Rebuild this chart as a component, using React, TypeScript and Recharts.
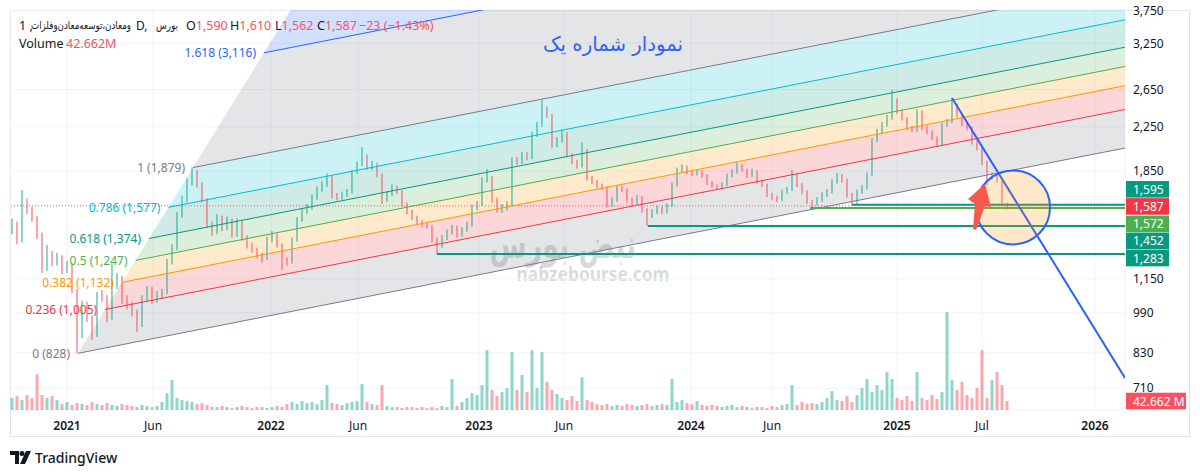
import React from "react"
import {
  ComposedChart,
  Bar,
  Area,
  XAxis,
  YAxis,
  CartesianGrid,
  ReferenceLine,
  ReferenceDot,
  Cell,
} from "recharts"

// TradingView-ish palette
const UP = "#22ab94"
const DOWN = "#f7525f"
const TEXT = "#131722"
const GRID = "#f0f3fa"
const FONT = '"Noto Sans", "DejaVu Sans", sans-serif'
const AR_FONT = '"DejaVu Sans", sans-serif'

// x = bar index (one candle every 5px)
const X_DOMAIN = [-0.4, 222.6]
const X_TICKS = [11, 28.2, 51.8, 69.2, 93.4, 110.4, 135.8, 152, 177, 194, 216.6]
const X_LABELS = ["2021", "Jun", "2022", "Jun", "2023", "Jun", "2024", "Jun", "2025", "Jul", "2026"]

const Y_DOMAIN = [645, 3764]
const Y_TICKS = [710, 830, 990, 1150, 1850, 2250, 2650, 3250, 3750]
const VOL_DOMAIN = [0, 1900]

const OPEN = [
  1420, 1459, 1365, 1594, 1558, 1504, 1396, 1207, 1278, 1239,
  1261, 1196, 1223, 1095, 898, 1025, 968, 898, 1071, 1057,
  968, 1120, 1155, 1048, 1025, 994, 938, 1057, 1095, 1048,
  1071, 1085, 1239, 1318, 1524, 1629, 1756, 1842, 1741, 1629,
  1459, 1414, 1504, 1440, 1491, 1396, 1478, 1377, 1336, 1306,
  1278, 1261, 1365, 1396, 1336, 1250, 1239, 1365, 1491, 1545,
  1572, 1643, 1702, 1741, 1795, 1658, 1643, 1665, 1687, 1842,
  1901, 1968, 1876, 1901, 1819, 1629, 1665, 1718, 1687, 1594,
  1545, 1504, 1478, 1459, 1452, 1365, 1336, 1377, 1414, 1440,
  1396, 1427, 1459, 1572, 1594, 1779, 1795, 1629, 1558, 1572,
  1594, 1943, 1926, 1986, 1960, 2169, 2267, 2422, 2369, 2075,
  2122, 2188, 1986, 1926, 1893, 2030, 1795, 1764, 1733, 1718,
  1594, 1629, 1718, 1702, 1629, 1608, 1643, 1558, 1524, 1545,
  1572, 1545, 1587, 1741, 1859, 1876, 1842, 1827, 1842, 1811,
  1756, 1733, 1718, 1741, 1811, 1842, 1893, 1859, 1811, 1842,
  1764, 1741, 1665, 1643, 1629, 1687, 1702, 1819, 1741, 1687,
  1615, 1601, 1629, 1665, 1687, 1764, 1811, 1779, 1665, 1608,
  1687, 1718, 1819, 2122, 2198, 2267, 2338, 2531, 2401, 2338,
  2237, 2217, 2401, 2237, 2198, 2141, 2075, 2267, 2297, 2476,
  2369, 2277, 2237, 2103, 2048, 1926, 1795, 1819, 1779, 1590,
]
const HIGH = [
  1500, 1480, 1702, 1640, 1580, 1520, 1410, 1336, 1300, 1290,
  1275, 1245, 1235, 1100, 1045, 1040, 980, 1085, 1095, 1070,
  1230, 1180, 1165, 1070, 1040, 1005, 1070, 1115, 1110, 1090,
  1100, 1255, 1340, 1545, 1660, 1790, 1879, 1860, 1760, 1640,
  1480, 1530, 1520, 1515, 1500, 1500, 1490, 1395, 1350, 1320,
  1290, 1385, 1420, 1405, 1345, 1265, 1380, 1510, 1570, 1600,
  1670, 1730, 1770, 1830, 1810, 1680, 1690, 1710, 1860, 1930,
  2055, 1990, 1935, 1920, 1830, 1690, 1745, 1735, 1700, 1610,
  1560, 1520, 1490, 1475, 1460, 1380, 1395, 1430, 1460, 1455,
  1445, 1480, 1595, 1620, 1800, 1865, 1810, 1645, 1600, 1620,
  1965, 1970, 2015, 2010, 2200, 2300, 2531, 2460, 2380, 2150,
  2220, 2200, 2000, 1945, 2098, 2040, 1810, 1780, 1750, 1730,
  1650, 1740, 1735, 1715, 1645, 1665, 1655, 1570, 1565, 1590,
  1585, 1605, 1760, 1880, 1905, 1895, 1860, 1860, 1855, 1825,
  1770, 1745, 1760, 1830, 1865, 1920, 1910, 1870, 1870, 1855,
  1780, 1750, 1680, 1660, 1705, 1725, 1859, 1830, 1755, 1700,
  1630, 1650, 1685, 1710, 1785, 1835, 1825, 1790, 1680, 1705,
  1740, 1840, 2140, 2230, 2300, 2370, 2645, 2550, 2420, 2350,
  2260, 2430, 2415, 2255, 2215, 2155, 2290, 2330, 2554, 2490,
  2385, 2295, 2250, 2120, 2060, 1935, 1840, 1830, 1790, 1610,
]
const LOW = [
  1400, 1340, 1350, 1530, 1480, 1370, 1180, 1190, 1215, 1220,
  1175, 1180, 1080, 828, 885, 950, 879, 890, 1040, 950,
  960, 1100, 1030, 1005, 975, 910, 930, 1040, 1030, 1035,
  1055, 1075, 1225, 1305, 1505, 1610, 1735, 1720, 1610, 1440,
  1390, 1400, 1420, 1425, 1380, 1385, 1360, 1315, 1290, 1260,
  1236, 1250, 1350, 1320, 1196, 1220, 1230, 1355, 1480, 1530,
  1560, 1630, 1690, 1725, 1640, 1625, 1630, 1650, 1675, 1830,
  1890, 1860, 1860, 1800, 1600, 1615, 1655, 1670, 1580, 1530,
  1490, 1460, 1445, 1435, 1350, 1283, 1320, 1365, 1400, 1380,
  1385, 1415, 1450, 1555, 1585, 1760, 1610, 1540, 1540, 1555,
  1585, 1900, 1910, 1940, 1950, 2150, 2250, 2340, 2050, 2055,
  2100, 1965, 1905, 1870, 1880, 1775, 1745, 1715, 1700, 1575,
  1580, 1615, 1685, 1610, 1590, 1595, 1540, 1452, 1505, 1530,
  1530, 1535, 1580, 1730, 1840, 1825, 1810, 1815, 1795, 1740,
  1720, 1705, 1705, 1730, 1800, 1830, 1845, 1795, 1800, 1750,
  1725, 1650, 1630, 1612, 1620, 1675, 1695, 1725, 1670, 1600,
  1572, 1590, 1615, 1650, 1675, 1750, 1760, 1645, 1595, 1600,
  1675, 1705, 1810, 2100, 2180, 2250, 2320, 2380, 2310, 2215,
  2195, 2200, 2215, 2175, 2120, 2055, 2065, 2250, 2285, 2345,
  2255, 2215, 2080, 2025, 1900, 1741, 1780, 1760, 1590, 1562,
]
const CLOSE = [
  1459, 1365, 1594, 1558, 1504, 1396, 1207, 1278, 1239, 1261,
  1196, 1223, 1095, 898, 1025, 968, 898, 1071, 1057, 968,
  1120, 1155, 1048, 1025, 994, 938, 1057, 1095, 1048, 1071,
  1085, 1239, 1318, 1524, 1629, 1756, 1842, 1741, 1629, 1459,
  1414, 1504, 1440, 1491, 1396, 1478, 1377, 1336, 1306, 1278,
  1261, 1365, 1396, 1336, 1250, 1239, 1365, 1491, 1545, 1572,
  1643, 1702, 1741, 1795, 1658, 1643, 1665, 1687, 1842, 1901,
  1968, 1876, 1901, 1819, 1629, 1665, 1718, 1687, 1594, 1545,
  1504, 1478, 1459, 1452, 1365, 1336, 1377, 1414, 1440, 1396,
  1427, 1459, 1572, 1594, 1779, 1795, 1629, 1558, 1572, 1594,
  1943, 1926, 1986, 1960, 2169, 2267, 2422, 2369, 2075, 2122,
  2188, 1986, 1926, 1893, 2030, 1795, 1764, 1733, 1718, 1594,
  1629, 1718, 1702, 1629, 1608, 1643, 1558, 1524, 1545, 1572,
  1545, 1587, 1741, 1859, 1876, 1842, 1827, 1842, 1811, 1756,
  1733, 1718, 1741, 1811, 1842, 1893, 1859, 1811, 1842, 1764,
  1741, 1665, 1643, 1629, 1687, 1702, 1819, 1741, 1687, 1615,
  1601, 1629, 1665, 1687, 1764, 1811, 1779, 1665, 1608, 1687,
  1718, 1819, 2122, 2198, 2267, 2338, 2531, 2401, 2338, 2237,
  2217, 2401, 2237, 2198, 2141, 2075, 2267, 2297, 2476, 2369,
  2277, 2237, 2103, 2048, 1926, 1795, 1819, 1779, 1610, 1587,
]
// volume, millions
const VOLUME = [
  57, 66, 47, 71, 57, 170, 71, 57, 66, 47,
  28, 38, 24, 33, 28, 24, 38, 28, 24, 33,
  24, 19, 28, 24, 19, 14, 24, 19, 14, 19,
  38, 80, 142, 57, 47, 43, 38, 28, 33, 24,
  14, 14, 19, 14, 9, 14, 19, 14, 9, 14,
  14, 9, 14, 19, 14, 28, 38, 28, 43, 33,
  38, 28, 47, 118, 33, 28, 24, 33, 38, 43,
  123, 38, 28, 24, 118, 19, 14, 14, 9, 14,
  14, 9, 14, 9, 14, 9, 19, 14, 147, 19,
  38, 57, 80, 71, 118, 284, 95, 66, 85, 104,
  275, 95, 166, 85, 284, 104, 275, 133, 95, 76,
  57, 47, 66, 43, 156, 47, 38, 28, 24, 28,
  19, 24, 19, 28, 24, 19, 24, 28, 19, 24,
  28, 24, 147, 38, 47, 33, 28, 43, 24, 19,
  24, 19, 14, 19, 24, 14, 19, 14, 9, 14,
  14, 9, 19, 14, 24, 28, 118, 24, 38, 28,
  33, 28, 38, 57, 90, 47, 43, 66, 38, 71,
  104, 147, 85, 118, 95, 180, 147, 57, 47, 66,
  43, 180, 57, 47, 71, 52, 85, 465, 142, 95,
  133, 71, 57, 104, 284, 57, 142, 180, 118, 42.662,
]

// fib channel anchors (bar index, price)
const FIB_LEVELS = [0, 0.236, 0.382, 0.5, 0.618, 0.786, 1, 1.618, 2.618]
const FIB_LABEL_PRICES = [828, 1005, 1132, 1247, 1374, 1577, 1879, 3116]
const FIB_COLORS = ["#787b86", "#f23645", "#ff9800", "#4caf50", "#089981", "#00bcd4", "#787b86", "#2962ff", "#f23645"]
const FIB_START_0 = { i: 13.2, p: 828.2 }
const FIB_START_1 = { i: 36.2, p: 1878.6 }
const FIB_BASE_END = { i: 217.6, p: 2004 }

// horizontal levels
const H_PRICES = [1595, 1572, 1452, 1283]
const H_FROM = [168, 159.6, 127.2, 85]
const H_COLORS = ["#089981", "#4caf50", "#089981", "#089981"]

// trend line, circle, arrow
const TREND = [{ i: 188, p: 2554 }, { i: 222.6, p: 743 }]
const CIRCLE = { i: 200.2, p: 1576 }
const ARROW_TIP = { i: 194.6, p: 1748 }

// right-axis badges
const BADGE_PRICES = [1595, 1587, 1572, 1452, 1283]
const BADGE_COLORS = ["#089981", "#f23645", "#4caf50", "#089981", "#089981"]
const BADGE_SHIFT = [-15.4, 0.6, 16, 15, 4]

const ROWS = CLOSE.map((c, i) => ({ i, o: OPEN[i], h: HIGH[i], l: LOW[i], c, v: VOLUME[i] }))

const K = Math.log(FIB_BASE_END.p / FIB_START_0.p) / (FIB_BASE_END.i - FIB_START_0.i)
const startI = (L: number) => FIB_START_0.i + L * (FIB_START_1.i - FIB_START_0.i)
const startP = (L: number) => FIB_START_0.p * Math.pow(FIB_START_1.p / FIB_START_0.p, L)
const levelAt = (L: number, i: number) => startP(L) * Math.exp(K * (i - startI(L)))
const XE = X_DOMAIN[1]

const BANDS = FIB_LEVELS.slice(0, -1).map((L, k) => {
  const U = FIB_LEVELS[k + 1]
  return {
    color: FIB_COLORS[k],
    data: [
      { i: startI(L), r: [startP(L), startP(L)] },
      { i: startI(U), r: [levelAt(L, startI(U)), startP(U)] },
      { i: XE, r: [levelAt(L, XE), levelAt(U, XE)] },
    ],
  }
})
const SHOWN_LEVELS = FIB_LEVELS.slice(0, -1)

const fmt = (v: number) => Math.round(v).toLocaleString("en-US")

const last = ROWS[ROWS.length - 1]
const prevClose = CLOSE[CLOSE.length - 2]
const change = last.c - prevClose
const changePct = (change / prevClose) * 100
const sign = change < 0 ? "−" : "+"

function Candle(props: any) {
  const { x, y, width, height, payload } = props
  if (!payload) return null
  const { o, h, l, c } = payload
  const top0 = height >= 0 ? y : y + height
  const hh = Math.abs(height)
  const cx = x + width / 2
  const lh = Math.log(h)
  const ll = Math.log(l)
  const py = (p: number) => (lh > ll ? top0 + (hh * (lh - Math.log(p))) / (lh - ll) : top0)
  const color = c >= o ? UP : DOWN
  const bt = py(Math.max(o, c))
  const bb = py(Math.min(o, c))
  return (
    <g>
      <line x1={cx} x2={cx} y1={top0} y2={top0 + hh} stroke={color} strokeWidth={1} />
      <rect x={x} y={bt} width={width} height={Math.max(1, bb - bt)} fill={color} />
    </g>
  )
}

function XTick(props: any) {
  const { x, y, payload } = props
  const label = X_LABELS[X_TICKS.indexOf(payload.value)]
  const isYear = /^\d{4}$/.test(label ?? "")
  return (
    <text x={x} y={y + 7} textAnchor="middle" dominantBaseline="central" fontSize={12}
      fontWeight={isYear ? 600 : 400} fill={TEXT} fontFamily={FONT}>
      {label}
    </text>
  )
}

export default function App() {
  return (
    <div style={{ position: "absolute", left: 0, top: 0, width: 1200, height: 473, background: "#fff", fontFamily: FONT, overflow: "hidden" }}>
      {/* frame */}
      <div style={{ position: "absolute", left: 10, top: 10, width: 1180, height: 427, border: "1px solid #e0e3eb", boxSizing: "border-box" }} />

      {/* watermark, behind the chart */}
      <svg width={1200} height={473} style={{ position: "absolute", left: 0, top: 0 }}>
        <text x={563} y={244} textAnchor="middle" dominantBaseline="central" fontSize={40} fontWeight={700}
          fill="rgba(120,120,120,0.28)" fontFamily={AR_FONT} textLength={147} lengthAdjust="spacingAndGlyphs">
          نبض بورس
        </text>
        <text x={593} y={274} textAnchor="middle" dominantBaseline="central" fontSize={19} fontWeight={700}
          fill="rgba(120,120,120,0.28)" fontFamily={FONT} textLength={153} lengthAdjust="spacingAndGlyphs">
          nabzebourse.com
        </text>
      </svg>

      <div style={{ position: "absolute", left: 0, top: 0 }}>
        <ComposedChart width={1200} height={473} data={ROWS}
          margin={{ top: 10, right: 0, bottom: 36, left: 10 }} style={{ fontFamily: FONT }}>
          <CartesianGrid stroke={GRID} />
          <XAxis dataKey="i" type="number" domain={X_DOMAIN} allowDataOverflow ticks={X_TICKS}
            height={27} axisLine={false} tickLine={false} tick={<XTick />} interval={0} />
          <XAxis xAxisId="v" dataKey="i" type="number" domain={X_DOMAIN} allowDataOverflow hide />
          <YAxis orientation="right" scale="log" domain={Y_DOMAIN} allowDataOverflow ticks={Y_TICKS}
            width={75} axisLine={false} tickLine={false} interval={0}
            tickFormatter={(v) => Number(v).toLocaleString("en-US")}
            tick={{ fill: TEXT, fontSize: 12, fontFamily: FONT }} />
          <YAxis yAxisId="v" domain={VOL_DOMAIN} allowDataOverflow hide />

          {BANDS.map((b, k) => (
            <Area key={`band${k}`} data={b.data} dataKey="r" type="linear" stroke="none"
              fill={b.color} fillOpacity={0.2} isAnimationActive={false} dot={false} activeDot={false} />
          ))}
          {SHOWN_LEVELS.map((L, k) => (
            <ReferenceLine key={`lvl${k}`} ifOverflow="hidden" stroke={FIB_COLORS[k]} strokeWidth={1}
              segment={[{ x: startI(L), y: startP(L) }, { x: XE, y: levelAt(L, XE) }]} />
          ))}

          <Bar xAxisId="v" yAxisId="v" dataKey="v" barSize={3} isAnimationActive={false}>
            {ROWS.map((r) => (
              <Cell key={r.i} fill={r.c >= r.o ? "rgba(34,171,148,0.5)" : "rgba(247,82,95,0.5)"} />
            ))}
          </Bar>
          <Bar dataKey={(d: any) => [d.l, d.h]} barSize={3} shape={<Candle />} isAnimationActive={false} />

          {H_PRICES.map((p, k) => (
            <ReferenceLine key={`h${k}`} ifOverflow="hidden" stroke={H_COLORS[k]} strokeWidth={2}
              segment={[{ x: H_FROM[k], y: p }, { x: XE, y: p }]} />
          ))}
          <ReferenceLine y={last.c} stroke={DOWN} strokeDasharray="1 2" strokeWidth={1} />
          <ReferenceLine ifOverflow="hidden" stroke="#2962ff" strokeWidth={2}
            segment={[{ x: TREND[0].i, y: TREND[0].p }, { x: TREND[1].i, y: TREND[1].p }]} />

          <ReferenceDot x={CIRCLE.i} y={CIRCLE.p} r={37} fill="#ff9800" fillOpacity={0.22}
            stroke="#2962ff" strokeWidth={2} />
          <ReferenceDot x={ARROW_TIP.i} y={ARROW_TIP.p} r={1}
            shape={(p: any) => (
              <path transform={`translate(${p.cx},${p.cy})`} fill="#f7594b"
                d="M0 0 L6 23 L0 22 L-9 46 L-12 45 L-10 20 L-17 15 Z" />
            )} />

          {SHOWN_LEVELS.map((L, k) => (
            <ReferenceDot key={`lab${k}`} x={startI(L)} y={startP(L)} r={1} ifOverflow="visible"
              shape={(p: any) => (
                <text x={p.cx - 8} y={p.cy} textAnchor="end" dominantBaseline="central"
                  fontSize={12} fill={FIB_COLORS[k]} fontFamily={FONT}>
                  {`${L} (${fmt(FIB_LABEL_PRICES[k])})`}
                </text>
              )} />
          ))}

          {BADGE_PRICES.map((p, k) => (
            <ReferenceDot key={`bd${k}`} x={XE} y={p} r={1} ifOverflow="visible"
              shape={(q: any) => (
                <g>
                  <rect x={q.cx + 1} y={q.cy + BADGE_SHIFT[k] - 8.3} width={43} height={16.6} fill={BADGE_COLORS[k]} />
                  <text x={q.cx + 8} y={q.cy + BADGE_SHIFT[k]} dominantBaseline="central" fontSize={12}
                    fill="#fff" fontFamily={FONT}>{fmt(p)}</text>
                </g>
              )} />
          ))}
          <ReferenceDot xAxisId="v" yAxisId="v" x={XE} y={last.v} r={1} ifOverflow="visible"
            shape={(q: any) => (
              <g>
                <rect x={q.cx + 1} y={q.cy - 8.3} width={60} height={16.6} fill={DOWN} />
                <text x={q.cx + 8} y={q.cy} dominantBaseline="central" fontSize={12}
                  fill="#fff" fontFamily={FONT}>{`${last.v.toFixed(3)} M`}</text>
              </g>
            )} />
        </ComposedChart>
      </div>

      {/* title + legend */}
      <svg width={1200} height={473} style={{ position: "absolute", left: 0, top: 0, pointerEvents: "none" }}
        fontFamily={FONT} fontSize={12.5}>
        <text x={613} y={44} textAnchor="middle" dominantBaseline="central" fontSize={20} fill="#2e62f5"
          fontFamily={AR_FONT} textLength={140} lengthAdjust="spacingAndGlyphs">
          نمودار شماره یک
        </text>

        <text x={19} y={25} dominantBaseline="central" fill={TEXT}>1 ,</text>
        <text x={31} y={25} dominantBaseline="central" fill={TEXT} fontFamily={AR_FONT} fontSize={11}
          textLength={100} lengthAdjust="spacingAndGlyphs">ومعادن،توسعه‌معادن‌وفلزات</text>
        <text x={136} y={25} dominantBaseline="central" fill={TEXT} fontSize={12}>D,</text>
        <text x={156} y={25} dominantBaseline="central" fill={TEXT} fontFamily={AR_FONT} fontSize={11}
          textLength={22} lengthAdjust="spacingAndGlyphs">بورس</text>
        <text x={186} y={25} dominantBaseline="central" fill={TEXT}>O<tspan fill={DOWN}>{fmt(last.o)}</tspan></text>
        <text x={230} y={25} dominantBaseline="central" fill={TEXT}>H<tspan fill={DOWN}>{fmt(last.h)}</tspan></text>
        <text x={275} y={25} dominantBaseline="central" fill={TEXT}>L<tspan fill={DOWN}>{fmt(last.l)}</tspan></text>
        <text x={317} y={25} dominantBaseline="central" fill={TEXT}>C<tspan fill={DOWN}>{fmt(last.c)}</tspan></text>
        <text x={359} y={25} dominantBaseline="central" fill={DOWN}>
          {`${sign}${Math.abs(change)} (${sign}${Math.abs(changePct).toFixed(2)}%)`}
        </text>
        <text x={19} y={43} dominantBaseline="central" fill={TEXT}>Volume</text>
        <text x={66} y={43} dominantBaseline="central" fill={DOWN}>{`${last.v.toFixed(3)}M`}</text>
      </svg>

      {/* logo */}
      <div style={{ position: "absolute", left: 10, top: 448, display: "flex", alignItems: "center", gap: 4 }}>
        <svg width="21" height="13" viewBox="0 0 21 13">
          <path d="M0 0h9v13H5V4H0z" fill={TEXT} />
          <circle cx="12" cy="2.5" r="2.5" fill={TEXT} />
          <path d="M16 0h5l-6 13h-5z" fill={TEXT} />
        </svg>
        <span style={{ fontSize: 14, color: TEXT, fontWeight: 500 }}>TradingView</span>
      </div>
    </div>
  )
}
